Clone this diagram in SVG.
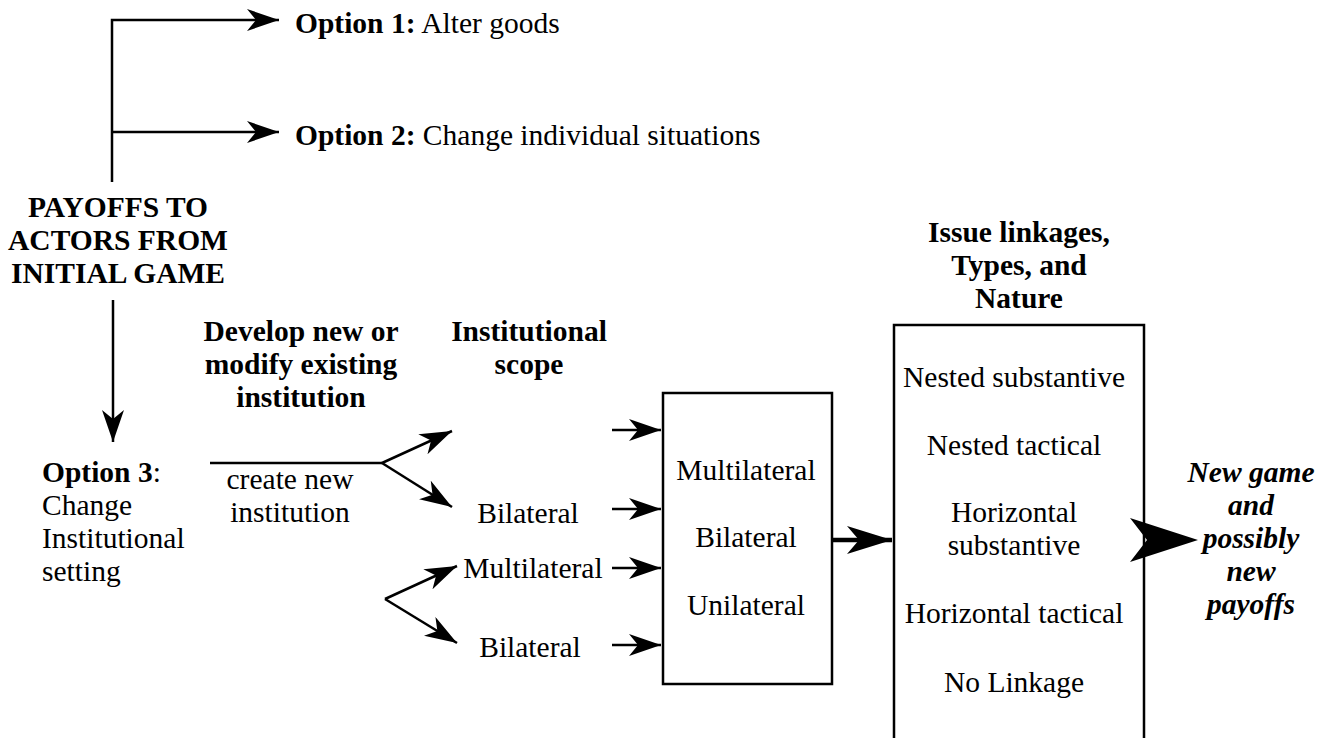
<svg xmlns="http://www.w3.org/2000/svg" width="1331" height="738" viewBox="0 0 1331 738" font-family="'Liberation Serif', 'DejaVu Serif', serif">
<style>
text{font-family:'Liberation Serif','DejaVu Serif',serif;font-size:29.5px;fill:#000}
.b{font-weight:bold}
.bi{font-weight:bold;font-style:italic}
.c{text-anchor:middle}
.ln{stroke:#000;stroke-width:2.5;fill:none}
.box{stroke:#000;stroke-width:2.5;fill:#fff}
</style>
<defs>
<marker id="arr" viewBox="0 0 32 22" markerWidth="32" markerHeight="22" refX="32" refY="11" orient="auto" markerUnits="userSpaceOnUse">
<path d="M0,0 L32,11 L0,22 L9,11 Z" fill="#000"/>
</marker>
<marker id="arrT" viewBox="0 0 45 28" markerWidth="45" markerHeight="28" refX="45" refY="14" orient="auto" markerUnits="userSpaceOnUse">
<path d="M0,0 L45,14 L0,28 L12,14 Z" fill="#000"/>
</marker>
</defs>

<g id="connectors">
<path class="ln" d="M112,182 V20 H279" marker-end="url(#arr)"/>
<path class="ln" d="M112,132 H279" marker-end="url(#arr)"/>
<path class="ln" d="M113,300 V442" marker-end="url(#arr)"/>
<path class="ln" d="M210,463 H382"/>
<path class="ln" d="M382,463 L452,431" marker-end="url(#arr)"/>
<path class="ln" d="M382,463 L452,507" marker-end="url(#arr)"/>
<path class="ln" d="M385,599 L457,643" marker-end="url(#arr)"/>
<path class="ln" d="M385,599 L457,566" marker-end="url(#arr)"/>
<path class="ln" d="M612,430 H661" marker-end="url(#arr)"/>
<path class="ln" d="M612,509 H661" marker-end="url(#arr)"/>
<path class="ln" d="M612,568 H661" marker-end="url(#arr)"/>
<path class="ln" d="M612,645 H661" marker-end="url(#arr)"/>
<path d="M832,540 H892" stroke="#000" stroke-width="4.5" fill="none" marker-end="url(#arrT)"/>
</g>

<g id="payoffs">
<text class="b c" x="118" y="217">PAYOFFS TO</text>
<text class="b c" x="118" y="250">ACTORS FROM</text>
<text class="b c" x="118" y="283">INITIAL GAME</text>
</g>

<g id="option1">
<text x="295" y="33"><tspan class="b">Option 1:</tspan> Alter goods</text>
</g>

<g id="option2">
<text x="295" y="145"><tspan class="b">Option 2:</tspan> Change individual situations</text>
</g>

<g id="option3">
<text x="42" y="482"><tspan class="b">Option 3</tspan>:</text>
<text x="42" y="515">Change</text>
<text x="42" y="548">Institutional</text>
<text x="42" y="581">setting</text>
</g>

<g id="develop">
<text class="b c" x="301" y="341">Develop new or</text>
<text class="b c" x="301" y="374">modify existing</text>
<text class="b c" x="301" y="407">institution</text>
</g>

<g id="create-new">
<text class="c" x="290" y="489">create new</text>
<text class="c" x="290" y="522">institution</text>
</g>

<g id="scope-header">
<text class="b c" x="529" y="341">Institutional</text>
<text class="b c" x="529" y="374">scope</text>
</g>

<g id="scope-labels">
<text class="c" x="528" y="523">Bilateral</text>
<text class="c" x="533" y="578">Multilateral</text>
<text class="c" x="530" y="657">Bilateral</text>
</g>

<g id="scope-box">
<rect class="box" x="663" y="393" width="169" height="291"/>
<text class="c" x="746" y="480">Multilateral</text>
<text class="c" x="746" y="547">Bilateral</text>
<text class="c" x="746" y="615">Unilateral</text>
</g>

<g id="linkage-header">
<text class="b c" x="1019" y="242">Issue linkages,</text>
<text class="b c" x="1019" y="275">Types, and</text>
<text class="b c" x="1019" y="308">Nature</text>
</g>

<g id="linkage-box">
<path class="ln" d="M894,740 V325 H1144 V740"/>
<text class="c" x="1014" y="387">Nested substantive</text>
<text class="c" x="1014" y="455">Nested tactical</text>
<text class="c" x="1014" y="522">Horizontal</text>
<text class="c" x="1014" y="555">substantive</text>
<text class="c" x="1014" y="623">Horizontal tactical</text>
<text class="c" x="1014" y="692">No Linkage</text>
</g>

<g id="result-arrow">
<polygon points="1130,518 1198,540 1130,562 1147,540" fill="#000"/>
</g>

<g id="new-game">
<text class="bi c" x="1251" y="482">New game</text>
<text class="bi c" x="1251" y="515">and</text>
<text class="bi c" x="1251" y="548">possibly</text>
<text class="bi c" x="1251" y="581">new</text>
<text class="bi c" x="1251" y="614">payoffs</text>
</g>
</svg>
